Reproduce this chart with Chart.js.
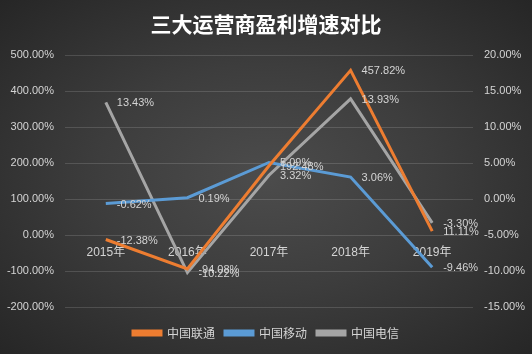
<!DOCTYPE html>
<html>
<head>
<meta charset="utf-8">
<script src="https://cdn.jsdelivr.net/npm/chart.js@4"></script>
<style>
  html, body { margin: 0; padding: 0; }
  body {
    width: 532px; height: 354px; overflow: hidden;
    background: radial-gradient(ellipse at 50% 50%, #4c4c4c 0%, #3d3d3d 45%, #262626 100%);
  }
  #wrap { width: 532px; height: 354px; position: relative; }
</style>
</head>
<body>
<div id="wrap"><canvas id="chart"></canvas></div>
<script>
const categories = ['2015年', '2016年', '2017年', '2018年', '2019年'];
// 中国联通 on the left axis, the other two on the right axis (percent)
const unicom = [-12.38, -94.08, 192.48, 457.82, 11.11];
const mobile = [-0.62, 0.19, 5.09, 3.06, -9.46];
const telecom = [13.43, -10.22, 3.32, 13.93, -3.30];

const FONT = '"Liberation Sans", "Noto Sans CJK SC", sans-serif';
const TEXT = '#d4d4d4';

// value labels to the right of each point
const pointLabels = {
    id: 'pointLabels',
    afterDatasetsDraw(chart) {
        const ctx = chart.ctx;
        ctx.save();
        ctx.font = '11px ' + FONT;
        ctx.fillStyle = TEXT;
        ctx.textAlign = 'left';
        ctx.textBaseline = 'middle';
        chart.data.datasets.forEach((ds, i) => {
            const meta = chart.getDatasetMeta(i);
            meta.data.forEach((pt, j) => {
                ctx.fillText(ds.data[j].toFixed(2) + '%', pt.x + 11, pt.y + 1);
            });
        });
        ctx.restore();
    }
};

function makeSet(label, data, color, axis) {
    return {
        label: label,
        data: data,
        yAxisID: axis,
        borderColor: color,
        backgroundColor: color,
        borderWidth: 3,
        pointRadius: 0,
        tension: 0
    };
}

new Chart(document.getElementById('chart'), {
    type: 'line',
    data: {
        labels: categories,
        datasets: [
            makeSet('中国联通', unicom, '#ED7D31', 'y'),
            makeSet('中国移动', mobile, '#5B9BD5', 'y1'),
            makeSet('中国电信', telecom, '#A5A5A5', 'y1')
        ]
    },
    options: {
        responsive: true,
        maintainAspectRatio: false,
        animation: false,
        layout: { padding: { left: 0, right: 0, top: 0, bottom: 5 } },
        plugins: {
            title: {
                display: true,
                text: '三大运营商盈利增速对比',
                color: '#ffffff',
                font: { family: '"Noto Sans CJK SC", sans-serif', size: 21, weight: 'bold' },
                padding: { top: 11, bottom: 19 }
            },
            legend: {
                position: 'bottom',
                title: {
                    display: true,
                    text: ' ',
                    font: { size: 1, lineHeight: 1 },
                    padding: { top: 9, bottom: 0 }
                },
                labels: {
                    color: TEXT,
                    font: { family: '"Noto Sans CJK SC", sans-serif', size: 12 },
                    boxWidth: 28,
                    boxHeight: 4,
                    padding: 10
                }
            },
            tooltip: { enabled: false }
        },
        scales: {
            x: {
                position: { y: 0 },
                offset: true,
                grid: { display: false },
                border: { display: false },
                ticks: { color: TEXT, font: { family: FONT, size: 12 }, padding: 2 }
            },
            y: {
                position: 'left',
                min: -200,
                max: 500,
                ticks: {
                    stepSize: 100,
                    color: TEXT,
                    font: { family: FONT, size: 11 },
                    padding: 11,
                    callback: v => v.toFixed(2) + '%'
                },
                grid: { color: 'rgba(255,255,255,0.14)', drawTicks: false },
                border: { display: false },
                afterFit: s => { s.width = 65; }
            },
            y1: {
                position: 'right',
                min: -15,
                max: 20,
                ticks: {
                    stepSize: 5,
                    color: TEXT,
                    font: { family: FONT, size: 11 },
                    padding: 11,
                    callback: v => v.toFixed(2) + '%'
                },
                grid: { display: false, drawTicks: false },
                border: { display: false },
                afterFit: s => { s.width = 59; }
            }
        }
    },
    plugins: [pointLabels]
});
</script>
</body>
</html>
